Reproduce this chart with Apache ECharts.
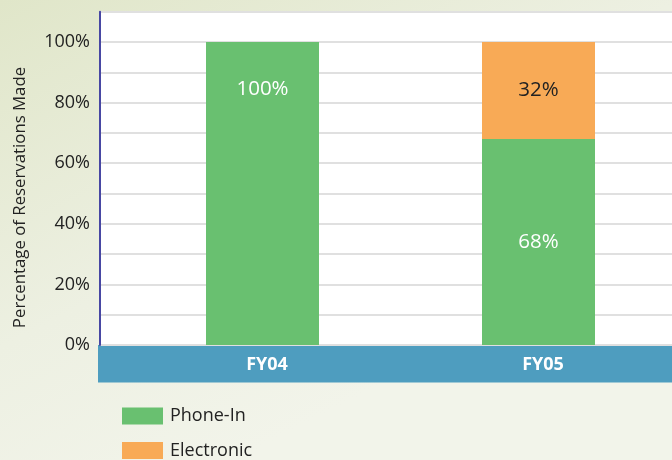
<!DOCTYPE html>
<html>
<head>
<meta charset="utf-8">
<script src="https://cdn.jsdelivr.net/npm/echarts@6/dist/echarts.min.js"></script>
<style>html,body{margin:0;padding:0;}#c{width:672px;height:460px;}</style>
</head>
<body>
<div id="c"></div>
<script>
var categories = ['FY04', 'FY05'];
var phoneIn = [100, 68];
var electronic = [0, 32];
var yTicks = [0, 20, 40, 60, 80, 100];
var yTitle = 'Percentage of Reservations Made';

var FONT = '"Open Sans", "Noto Sans", sans-serif';
var chart = echarts.init(document.getElementById('c'), null, {renderer: 'canvas'});

var phoneData = phoneIn.map(function (v, i) {
  var item = {value: v};
  if (electronic[i] === 0) {
    item.label = {position: 'insideTop', distance: 37};
  }
  return item;
});
var elecData = electronic.map(function (v) {
  return v === 0 ? {value: v, label: {show: false}} : {value: v};
});

var legendCommon = {
  orient: 'vertical', left: 122, itemWidth: 41, itemHeight: 17, padding: 0,
  icon: 'rect',
  textStyle: {fontSize: 18, lineHeight: 17, color: '#222222', fontFamily: FONT, padding: [0, 0, 0, 2]}
};

chart.setOption({
  backgroundColor: {
    type: 'linear', x: 0, y: 0, x2: 0.35, y2: 1,
    colorStops: [{offset: 0, color: '#e0e6c9'}, {offset: 0.6, color: '#edf0e2'}, {offset: 1, color: '#f2f4ea'}]
  },
  textStyle: {fontFamily: FONT},
  grid: [
    {left: 100, right: 0, top: 11.7, height: 333.3, show: true, backgroundColor: '#ffffff', borderWidth: 0, outerBoundsMode: 'none'},
    {left: 124.5, width: 552, top: 11.7, height: 333.3, outerBoundsMode: 'none'},
    {left: 98, right: 0, top: 345, height: 37.5, show: true, backgroundColor: '#4e9dbf', borderWidth: 0, outerBoundsMode: 'none'},
    {left: 100, right: 0, top: 68, height: 259, outerBoundsMode: 'none'}
  ],
  xAxis: [
    {gridIndex: 0, type: 'value', show: false},
    {gridIndex: 1, type: 'category', data: categories,
      axisLine: {show: false}, axisTick: {show: false}, splitLine: {show: false},
      axisLabel: {color: '#ffffff', fontWeight: 'bold', fontSize: 18, margin: 11, fontFamily: FONT,
        padding: [0, 0, 0, 9]}},
    {gridIndex: 2, type: 'value', show: false},
    {gridIndex: 3, type: 'value', show: false}
  ],
  yAxis: [
    {gridIndex: 0, type: 'value', min: 0, max: 110, interval: 10,
      axisLine: {show: true, lineStyle: {color: '#4747a3', width: 2}},
      axisTick: {show: false},
      splitLine: {show: true, lineStyle: {color: '#e0e0e0', width: 2}},
      axisLabel: {
        margin: 10, fontSize: 18, color: '#222222', fontFamily: FONT,
        formatter: function (v) { return yTicks.indexOf(v) >= 0 ? v + '%' : ''; }
      }},
    {gridIndex: 1, type: 'value', min: 0, max: 110, interval: 10, show: false},
    {gridIndex: 2, type: 'value', show: false},
    {gridIndex: 3, type: 'value', name: yTitle, nameLocation: 'middle', nameGap: 71,
      nameTextStyle: {fontSize: 16.8, color: '#222222', fontFamily: FONT},
      axisLine: {show: false}, axisTick: {show: false}, axisLabel: {show: false}, splitLine: {show: false}}
  ],
  legend: [
    Object.assign({top: 407, data: ['Phone-In']}, legendCommon),
    Object.assign({top: 441.5, data: ['Electronic']}, legendCommon)
  ],
  series: [
    {name: 'Phone-In', type: 'bar', stack: 'total', xAxisIndex: 1, yAxisIndex: 1,
      barWidth: 113, data: phoneData, itemStyle: {color: '#69c070'},
      label: {show: true, position: 'inside', color: '#ffffff', fontSize: 20.5, fontFamily: FONT,
        formatter: function (p) { return p.value + '%'; }}},
    {name: 'Electronic', type: 'bar', stack: 'total', xAxisIndex: 1, yAxisIndex: 1,
      barWidth: 113, data: elecData, itemStyle: {color: '#f8aa56'},
      label: {show: true, position: 'inside', color: '#222222', fontSize: 20.5, fontFamily: FONT,
        formatter: function (p) { return p.value + '%'; }}}
  ]
});
</script>
</body>
</html>
